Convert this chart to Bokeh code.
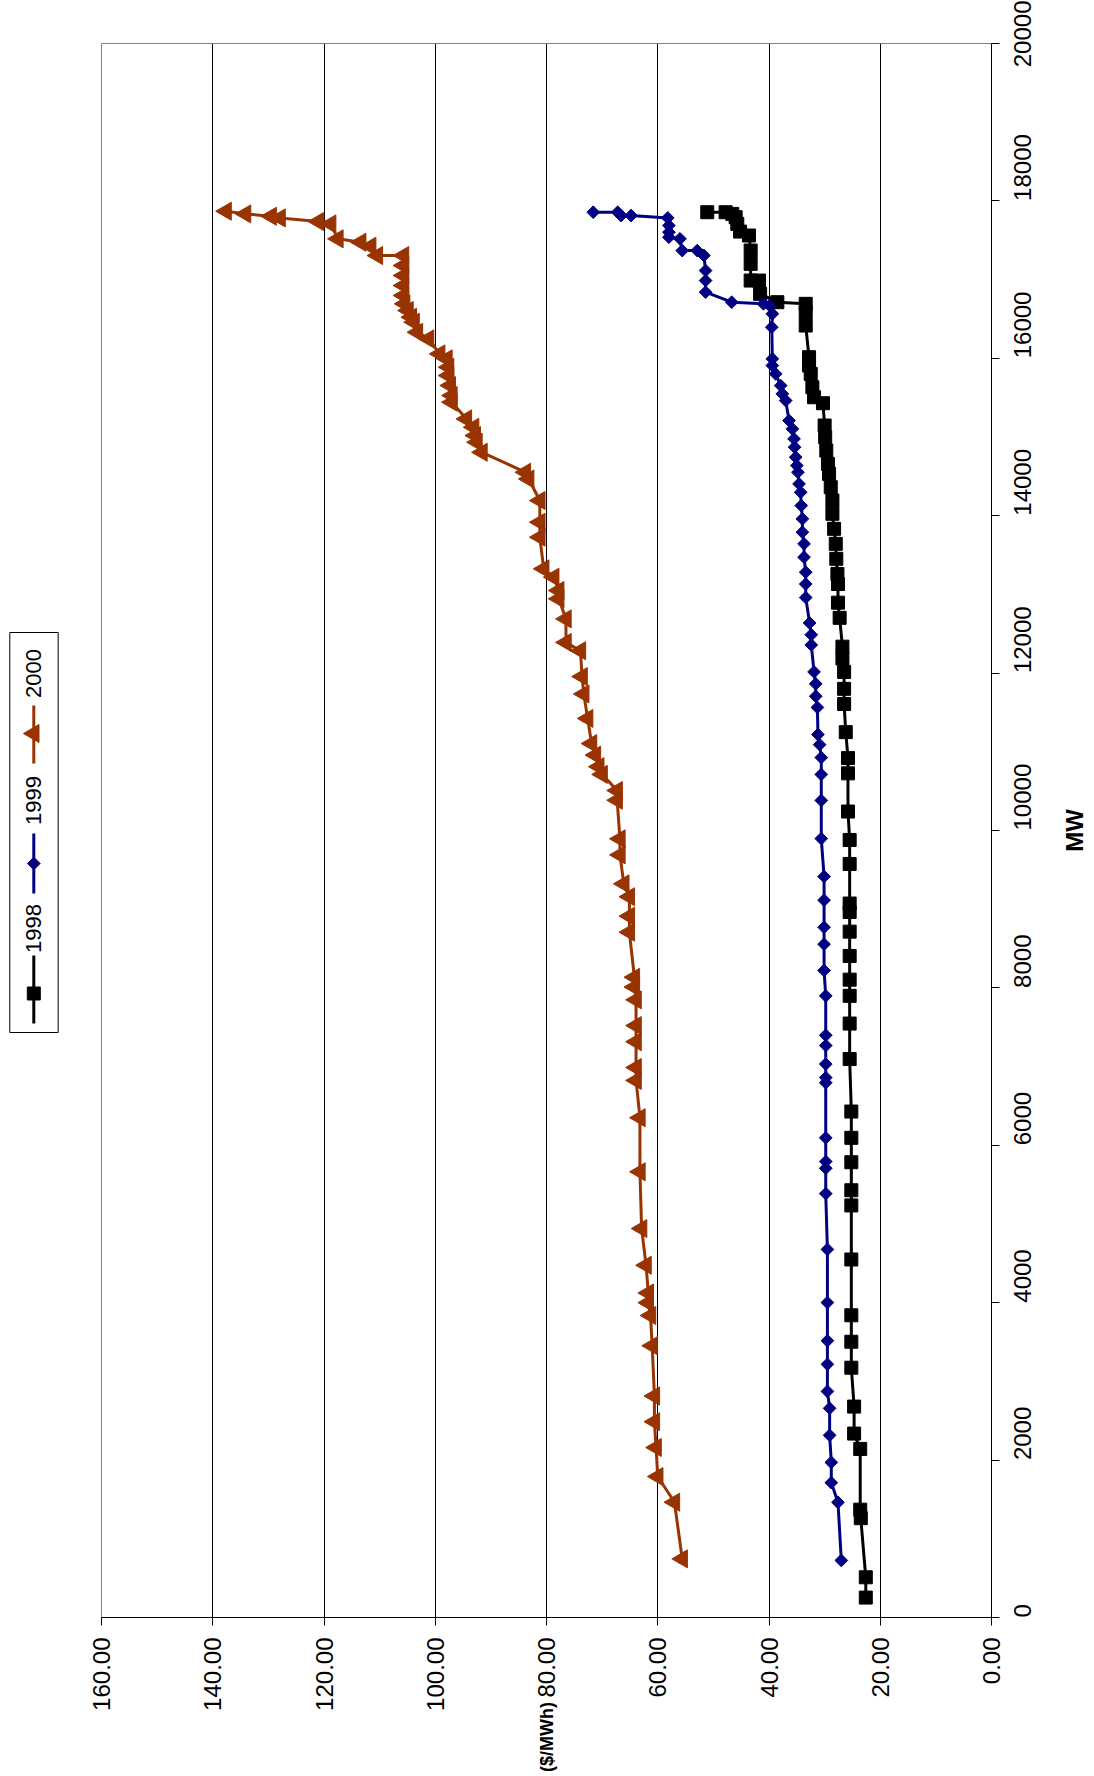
import math
from bokeh.plotting import figure
from bokeh.models import Range1d, FixedTicker, PrintfTickFormatter
from bokeh.layouts import row
from bokeh.embed import file_html
from bokeh.resources import INLINE
from bokeh.core.properties import value

# ---------------- data (MW, $/MWh) ----------------
series_names = ["1998", "1999", "2000"]

mw_1998 = [253, 511, 1262, 1370, 2142, 2337, 2680, 3174, 3504, 3840, 4549, 5236, 5429, 5785,
           6095, 6429, 7096, 7547, 7899, 8105, 8406, 8715, 8965, 9072, 9575, 9880, 10241,
           10726, 10920, 11250, 11607, 11800, 12015, 12186, 12336, 12702, 12895, 13132, 13260,
           13452, 13642, 13833, 14024, 14193, 14362, 14531, 14658, 14828, 14997, 15146, 15429,
           15505, 15632, 15802, 15908, 16014, 16416, 16586, 16692, 16713, 16819, 16988, 16988,
           17200, 17369, 17560, 17610, 17708, 17793, 17835, 17856, 17856]
price_1998 = [22.6, 22.6, 23.5, 23.6, 23.6, 24.7, 24.7, 25.2, 25.2, 25.2, 25.2, 25.2, 25.2, 25.2,
              25.2, 25.2, 25.5, 25.5, 25.5, 25.5, 25.5, 25.5, 25.5, 25.5, 25.5, 25.5, 25.8,
              25.8, 25.8, 26.2, 26.5, 26.5, 26.5, 26.8, 26.8, 27.3, 27.6, 27.6, 27.7,
              27.9, 28.0, 28.3, 28.6, 28.6, 28.9, 29.2, 29.4, 29.7, 29.9, 30.0, 30.3,
              31.9, 32.2, 32.5, 32.8, 32.8, 33.4, 33.4, 33.4, 38.5, 41.6, 41.8, 43.3,
              43.3, 43.3, 43.6, 45.2, 45.7, 46.0, 46.6, 47.8, 51.1]

mw_1999 = [725, 1464, 1713, 1971, 2315, 2658, 2873, 3217, 3517, 4002, 4677, 5386, 5708, 5794,
           6095, 6795, 6860, 7032, 7268, 7398, 7899, 8222, 8556, 8771, 9115, 9415, 9897, 10382,
           10712, 10927, 11091, 11220, 11564, 11705, 11864, 12015, 12358, 12487, 12637, 12960,
           13132, 13282, 13473, 13642, 13790, 13960, 14129, 14298, 14404, 14552, 14637, 14743,
           14870, 14976, 15103, 15209, 15463, 15548, 15653, 15802, 15908, 15993, 16395, 16565,
           16671, 16692, 16713, 16840, 16988, 17115, 17306, 17369, 17369, 17518, 17538, 17602,
           17687, 17784, 17814, 17814, 17856, 17856]
price_1999 = [27.0, 27.6, 28.8, 28.8, 29.1, 29.1, 29.5, 29.5, 29.5, 29.5, 29.5, 29.8, 29.8, 29.8,
              29.8, 29.8, 29.8, 29.8, 29.8, 29.8, 29.8, 30.1, 30.1, 30.1, 30.1, 30.1, 30.6, 30.6,
              30.6, 30.6, 30.9, 31.2, 31.3, 31.6, 31.6, 31.9, 32.4, 32.4, 32.7, 33.4,
              33.4, 33.4, 33.7, 33.7, 34.0, 34.0, 34.2, 34.3, 34.6, 34.8, 35.0, 35.2,
              35.4, 35.5, 35.8, 36.4, 37.0, 37.6, 37.9, 38.8, 39.4, 39.4, 39.5, 39.4,
              39.9, 41.0, 46.7, 51.4, 51.4, 51.4, 51.7, 52.9, 55.6, 56.0, 58.0, 58.0,
              58.0, 58.2, 64.8, 66.6, 67.2, 71.6]

mw_2000 = [745, 1465, 1791, 2160, 2488, 2814, 3453, 3837, 4000, 4124, 4476, 4942, 5663, 6350,
           6824, 6988, 7316, 7521, 7848, 8011, 8135, 8708, 8912, 9158, 9322, 9690, 9894, 10385,
           10508, 10713, 10811, 10958, 11105, 11424, 11735, 11956, 12284, 12390, 12689, 12944,
           13050, 13219, 13325, 13727, 13917, 14193, 14467, 14552, 14806, 14933, 15018, 15124,
           15230, 15442, 15527, 15654, 15781, 15887, 15993, 16056, 16247, 16331, 16459, 16522,
           16607, 16692, 16798, 16925, 17052, 17179, 17306, 17306, 17424, 17475, 17518, 17708,
           17738, 17784, 17805, 17835, 17869]
price_2000 = [55.6, 57.0, 60.0, 60.3, 60.6, 60.6, 61.0, 61.3, 61.7, 61.7, 62.1, 62.9, 63.2, 63.2,
              63.9, 63.9, 63.9, 63.9, 63.9, 64.2, 64.2, 65.1, 65.1, 65.1, 66.1, 66.8, 66.8, 67.3,
              67.3, 70.0, 70.6, 71.2, 71.9, 72.6, 73.3, 73.6, 73.9, 76.5, 76.5, 77.8,
              77.8, 78.7, 80.5, 81.2, 81.2, 81.2, 83.2, 83.8, 91.6, 92.5, 92.8, 93.1,
              94.4, 97.0, 97.0, 97.3, 97.6, 97.6, 97.9, 99.2, 101.2, 103.2, 103.8, 104.3,
              104.9, 105.5, 105.7, 105.7, 105.7, 105.7, 105.7, 110.4, 111.6, 113.4, 117.5, 118.8,
              121.0, 127.9, 129.5, 134.1, 137.6]

price_ticks = [0, 20, 40, 60, 80, 100, 120, 140, 160]
grid_ticks = [20, 40, 60, 80, 100, 120, 140]
mw_ticks = [0, 2000, 4000, 6000, 8000, 10000, 12000, 14000, 16000, 18000, 20000]

x_title = "MW"
y_title = "($/MWh)"

colors = ["#000000", "#000080", "#993300"]
FONT = "Liberation Sans"
ROT = math.pi / 2
TOP, BOTTOM, H = 43, 159, 1776
LEG_W, MAIN_L, FRAME_W, MAIN_R = 78, 23, 890, 62
MAIN_W = MAIN_L + FRAME_W + MAIN_R
MW_W = 1094 - LEG_W - MAIN_W

# ---------------- main chart (rotated layout) ----------------
p = figure(width=MAIN_W, height=H,
           x_range=Range1d(160, 0), y_range=Range1d(0, 20000),
           y_axis_location="right",
           output_backend="svg", toolbar_location=None,
           min_border_left=MAIN_L, min_border_right=MAIN_R,
           min_border_top=TOP, min_border_bottom=BOTTOM)
p.background_fill_color = "white"
p.border_fill_color = "white"
p.outline_line_color = "#808080"
p.outline_line_width = 1

p.xgrid.ticker = FixedTicker(ticks=grid_ticks)
p.xgrid.grid_line_color = "black"
p.xgrid.grid_line_width = 1
p.ygrid.grid_line_color = None

for ax, ticks, fmt, so in ((p.xaxis[0], price_ticks, "%.2f", 12), (p.yaxis[0], mw_ticks, "%d", 23)):
    ax.ticker = FixedTicker(ticks=ticks)
    ax.formatter = PrintfTickFormatter(format=fmt)
    ax.major_label_orientation = ROT
    ax.major_label_text_font = FONT
    ax.major_label_text_font_size = "24px"
    ax.major_label_text_color = "black"
    ax.major_label_standoff = so
    ax.major_tick_out = 8
    ax.major_tick_in = 0
    ax.minor_tick_out = 0
    ax.minor_tick_in = 0
    ax.axis_line_color = "black"
    ax.major_tick_line_color = "black"

xa = p.xaxis[0]
xa.axis_label = y_title
xa.axis_label_text_font = FONT
xa.axis_label_text_font_style = "bold"
xa.axis_label_text_color = "black"
xa.axis_label_text_font_size = "18px"
try:
    xa.axis_label_standoff = -12
except Exception:
    xa.axis_label_standoff = 0
if "axis_label_orientation" in xa.properties():
    xa.axis_label_orientation = ROT

markers = [("square", 13, 0.0), ("square", 9, math.pi / 4), ("triangle", 18, ROT)]
for (mw, pr), col, (mk, sz, ang) in zip(((mw_1998, price_1998), (mw_1999, price_1999), (mw_2000, price_2000)),
                                        colors, markers):
    p.line(pr, mw, line_color=col, line_width=3)
    p.scatter(pr, mw, marker=mk, size=sz, angle=ang, fill_color=col, line_color=col)

FH = H - TOP - BOTTOM


def side_panel(width):
    f = figure(width=width, height=H, x_range=Range1d(0, width), y_range=Range1d(0, FH),
               output_backend="svg", toolbar_location=None,
               min_border_left=0, min_border_right=0,
               min_border_top=TOP, min_border_bottom=BOTTOM)
    f.axis.visible = False
    f.grid.visible = False
    f.outline_line_color = None
    return f


# ---------------- legend panel (rotated); frame aligned with main frame ----------------
lg = side_panel(LEG_W)
lg.quad(left=[9.3], right=[57.7], bottom=[585], top=[985], fill_color="white",
        line_color="black", line_width=1)
leg_y = [(594, 662, 624, 689), (724, 784, 754, 817), (854, 912, 884, 944)]
for name, col, (mk, sz, ang), (y0, y1, ym, yt) in zip(series_names, colors, markers, leg_y):
    lg.line([33.3, 33.3], [y0, y1], line_color=col, line_width=3)
    lg.scatter([33.3], [ym], marker=mk, size=sz, angle=ang, fill_color=col, line_color=col)
    lg.text(x=[33.3], y=[yt], text=[name], angle=ROT, text_align="center",
            text_baseline="middle", text_font=value(FONT), text_font_size="22px",
            text_color="black")

# ---------------- MW axis title panel ----------------
mwp = side_panel(MW_W)
mwp.text(x=[1074 - LEG_W - MAIN_W], y=[FH / 2], text=[x_title], angle=ROT, text_align="center",
         text_baseline="middle", text_font=value(FONT), text_font_size="24px",
         text_font_style="bold", text_color="black")

layout = row(lg, p, mwp)
open("out.html", "w").write(file_html(layout, INLINE))
